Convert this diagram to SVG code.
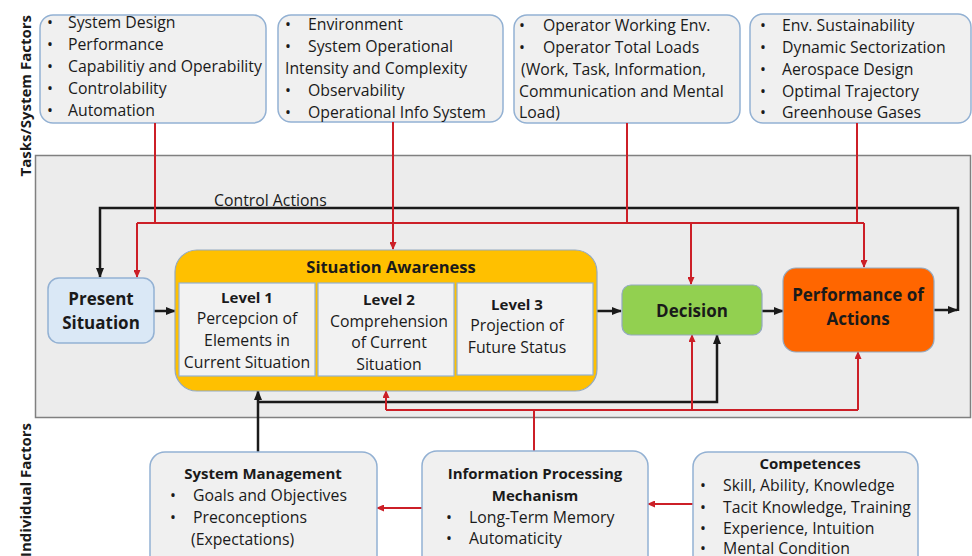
<svg xmlns="http://www.w3.org/2000/svg" width="972" height="556" viewBox="0 0 972 556">
  <style>
    text { font-family: "Open Sans", "Liberation Sans", sans-serif; fill: #1a1a1a; }
    .t { font-size: 15.8px; }
    .h { font-size: 15px; font-weight: bold; text-anchor: middle; }
    .b { font-weight: bold; }
    .c { text-anchor: middle; }
    .side { font-size: 15px; font-weight: bold; text-anchor: end; }
    .factor { fill: #f0f0f0; stroke: #93b1d3; stroke-width: 1.5; }
    .level { fill: #f2f2f2; stroke: #93b1d3; stroke-width: 1.2; }
    .red { fill: none; stroke: #cc1f27; stroke-width: 2; }
    .blk { fill: none; stroke: #1a1a1a; stroke-width: 2.5; }
    .ra { marker-end: url(#arrRed); }
    .ba { marker-end: url(#arrBlk); }
  </style>
  <defs>
    <marker id="arrBlk" markerUnits="userSpaceOnUse" markerWidth="10" markerHeight="8" refX="9" refY="4" orient="auto">
      <path d="M0,0 L10,4 L0,8 z" fill="#1a1a1a"/>
    </marker>
    <marker id="arrRed" markerUnits="userSpaceOnUse" markerWidth="8" markerHeight="7" refX="7" refY="3.5" orient="auto">
      <path d="M0,0 L8,3.5 L0,7 z" fill="#cc1f27"/>
    </marker>
  </defs>

  <rect width="972" height="556" fill="#ffffff"/>

  <!-- side labels -->
  <text class="side" transform="translate(31,15) rotate(-90)">Tasks/System Factors</text>
  <text class="side" transform="translate(31,423) rotate(-90)">Individual Factors</text>

  <!-- environment frame -->
  <rect id="frame" x="35.5" y="155.5" width="935" height="262" fill="#ececec" stroke="#808080" stroke-width="1.5"/>

  <!-- task / system factor boxes -->
  <g id="factors-system">
    <rect class="factor" x="40" y="15" width="226" height="108" rx="13"/>
    <g class="t">
      <text x="47" y="28">•</text><text x="68" y="28">System Design</text>
      <text x="47" y="50">•</text><text x="68" y="50">Performance</text>
      <text x="47" y="72">•</text><text x="68" y="72">Capabilitiy and Operability</text>
      <text x="47" y="94">•</text><text x="68" y="94">Controlability</text>
      <text x="47" y="116">•</text><text x="68" y="116">Automation</text>
    </g>
  </g>
  <g id="factors-environment">
    <rect class="factor" x="278" y="15" width="225" height="107" rx="13"/>
    <g class="t">
      <text x="285" y="30">•</text><text x="308" y="30">Environment</text>
      <text x="285" y="52">•</text><text x="308" y="52">System Operational</text>
      <text x="285" y="74">Intensity and Complexity</text>
      <text x="285" y="96">•</text><text x="308" y="96">Observability</text>
      <text x="285" y="118">•</text><text x="308" y="118">Operational Info System</text>
    </g>
  </g>
  <g id="factors-operator">
    <rect class="factor" x="514" y="15" width="226" height="108" rx="13"/>
    <g class="t">
      <text x="519" y="31">•</text><text x="543" y="31">Operator Working Env.</text>
      <text x="519" y="53">•</text><text x="543" y="53">Operator Total Loads</text>
      <text x="521" y="75"> (Work, Task, Information,</text>
      <text x="519" y="97">Communication and Mental</text>
      <text x="519" y="118">Load)</text>
    </g>
  </g>
  <g id="factors-airspace">
    <rect class="factor" x="750" y="14" width="221" height="109" rx="13"/>
    <g class="t">
      <text x="760" y="31">•</text><text x="782" y="31">Env. Sustainability</text>
      <text x="760" y="53">•</text><text x="782" y="53">Dynamic Sectorization</text>
      <text x="760" y="75">•</text><text x="782" y="75">Aerospace Design</text>
      <text x="760" y="97">•</text><text x="782" y="97">Optimal Trajectory</text>
      <text x="760" y="118">•</text><text x="782" y="118">Greenhouse Gases</text>
    </g>
  </g>

  <!-- connectors -->
  <g id="connectors">
    <!-- control-action feedback loop -->
    <path class="blk ba" d="M934,310 H957"/>
    <path class="blk ba" d="M958,311 V208 H100 V277"/>
    <!-- task / system influences -->
    <path class="red" d="M155,123 V223"/>
    <path class="red" d="M627,123 V223"/>
    <path class="red" d="M857,123 V223"/>
    <path class="red" d="M137,223 H864"/>
    <path class="red ra" d="M137,223 V277"/>
    <path class="red ra" d="M393,122 V249"/>
    <path class="red ra" d="M691,223 V284"/>
    <path class="red ra" d="M864,223 V267"/>
    <!-- main chain -->
    <path class="blk ba" d="M154,311 H175"/>
    <path class="blk ba" d="M597,311 H621"/>
    <path class="blk ba" d="M762,311 H783"/>
    <!-- system management feedback -->
    <path class="blk ba" d="M258,452 V391"/>
    <path class="blk ba" d="M258,402 H717 V335"/>
    <!-- individual influences -->
    <path class="red" d="M534,451 V410"/>
    <path class="red" d="M386,410 H858"/>
    <path class="red ra" d="M386,410 V391"/>
    <path class="red ra" d="M692,410 V335"/>
    <path class="red ra" d="M858,410 V352"/>
    <path class="red ra" d="M693,504 H648"/>
    <path class="red ra" d="M422,508 H377"/>
    <text class="t" x="214" y="206">Control Actions</text>
  </g>

  <g id="present-situation">
    <rect x="48" y="278" width="106" height="65" rx="11" fill="#dae8f6" stroke="#93b1d3" stroke-width="1.5"/>
    <text class="b c" x="101" y="305" font-size="17">Present</text>
    <text class="b c" x="101" y="329" font-size="17">Situation</text>
  </g>

  <g id="situation-awareness">
    <rect x="175" y="250" width="422" height="141" rx="22" fill="#ffc000" stroke="#93a9c0" stroke-width="1.2"/>
    <text class="b c" x="391" y="273" font-size="16.5">Situation Awareness</text>
    <g id="level-1">
      <rect class="level" x="179" y="283" width="136" height="93"/>
      <text class="h" x="247" y="303">Level 1</text>
      <text class="t c" x="247" y="324">Percepcion of</text>
      <text class="t c" x="247" y="346">Elements in</text>
      <text class="t c" x="247" y="368">Current Situation</text>
    </g>
    <g id="level-2">
      <rect class="level" x="318" y="283" width="136" height="93"/>
      <text class="h" x="389" y="305">Level 2</text>
      <text class="t c" x="389" y="327">Comprehension</text>
      <text class="t c" x="389" y="348">of Current</text>
      <text class="t c" x="389" y="370">Situation</text>
    </g>
    <g id="level-3">
      <rect class="level" x="457" y="283" width="136" height="92"/>
      <text class="h" x="517" y="310">Level 3</text>
      <text class="t c" x="517" y="331">Projection of</text>
      <text class="t c" x="517" y="353">Future Status</text>
    </g>
  </g>

  <g id="decision">
    <rect x="622" y="285" width="140" height="50" rx="9" fill="#92d050" stroke="#93a9c0" stroke-width="1.2"/>
    <text class="b c" x="692" y="317" font-size="17">Decision</text>
  </g>

  <g id="performance">
    <rect x="783" y="268" width="151" height="84" rx="13" fill="#ff6600" stroke="#93a9c0" stroke-width="1.2"/>
    <text class="b c" x="858" y="301" font-size="17">Performance of</text>
    <text class="b c" x="858" y="325" font-size="17">Actions</text>
  </g>

  <!-- individual factor boxes -->
  <g id="system-management">
    <rect class="factor" x="150" y="452" width="227" height="120" rx="15"/>
    <text class="h" x="263" y="479">System Management</text>
    <g class="t">
      <text x="170" y="501">•</text><text x="193" y="501">Goals and Objectives</text>
      <text x="170" y="523">•</text><text x="193" y="523">Preconceptions</text>
      <text x="191" y="545">(Expectations)</text>
    </g>
  </g>
  <g id="information-processing">
    <rect class="factor" x="422" y="451" width="226" height="120" rx="15"/>
    <text class="h" x="535" y="479">Information Processing</text>
    <text class="h" x="535" y="501">Mechanism</text>
    <g class="t">
      <text x="446" y="523">•</text><text x="469" y="523">Long-Term Memory</text>
      <text x="446" y="544">•</text><text x="469" y="544">Automaticity</text>
    </g>
  </g>
  <g id="competences">
    <rect class="factor" x="693" y="452" width="225" height="120" rx="15"/>
    <text class="h" x="810" y="469">Competences</text>
    <g class="t">
      <text x="700" y="491">•</text><text x="723" y="491">Skill, Ability, Knowledge</text>
      <text x="700" y="513">•</text><text x="723" y="513">Tacit Knowledge, Training</text>
      <text x="700" y="534">•</text><text x="723" y="534">Experience, Intuition</text>
      <text x="700" y="554">•</text><text x="723" y="554">Mental Condition</text>
    </g>
  </g>
</svg>
